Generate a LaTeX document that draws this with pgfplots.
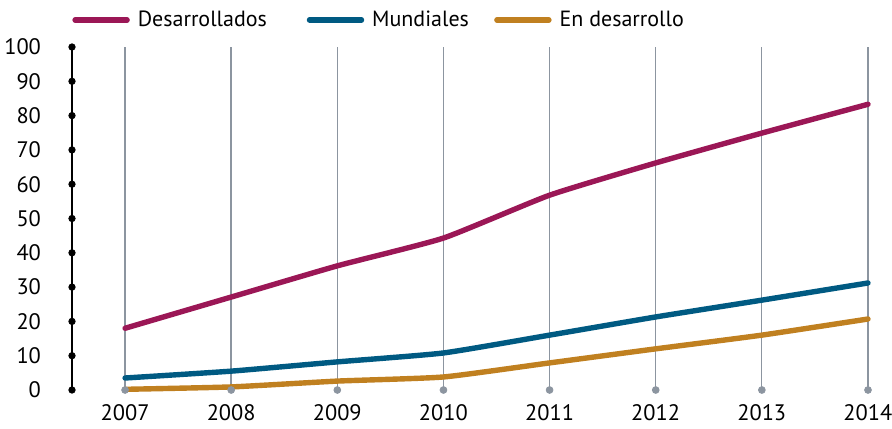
\documentclass[border=0pt]{standalone}
\usepackage{pgfplots}
\pgfplotsset{compat=1.18}
\usepackage{fontspec}
\setmainfont{PT Sans}
\definecolor{cDes}{HTML}{9B1756}
\definecolor{cMun}{HTML}{005A82}
\definecolor{cEnd}{HTML}{C08020}
\definecolor{cGrid}{HTML}{8C95A0}
\begin{document}
\begin{tikzpicture}
\path[use as bounding box] (-36pt,-19pt) rectangle (410pt,195pt);
\begin{axis}[
  at={(0,0)}, anchor=south west,
  scale only axis, width=398pt, height=171.5pt,
  xmin=2006.5, xmax=2014, ymin=0, ymax=100,
  clip=false,
  axis lines=left, axis line style={-},
  x axis line style={draw=none},
  y axis line style={black, line width=0.8pt},
  xtick={2007,...,2014}, ytick={0,10,...,100},
  xticklabel style={/pgf/number format/1000 sep={}, yshift=-3.5pt},
  yticklabel style={xshift=-12pt},
  /pgf/number format/assume math mode=true,
  major tick length=0pt,
  xmajorgrids, grid style={cGrid, line width=0.7pt},
  tick label style={font=\fontsize{11.2}{13}\selectfont},
  legend columns=3,
  legend style={at={(rel axis cs:0,1)}, anchor=west, xshift=0pt, yshift=13.5pt,
    draw=none, fill=none, inner sep=0pt,
    font=\fontsize{11}{13}\selectfont,
    nodes={inner sep=0pt, anchor=west},
    /tikz/every odd column/.append style={column sep=4pt}},
  legend image code/.code={\draw[#1, line cap=round] (0pt,0pt) -- (26pt,0pt);},
]
% grid end dots
\addplot[only marks, mark=*, mark size=1.7pt, color=cGrid, forget plot] coordinates {
(2007,0) (2008,0) (2009,0) (2010,0) (2011,0) (2012,0) (2013,0) (2014,0)};
% y axis dots
\addplot[only marks, mark=*, mark size=1.6pt, color=black, forget plot] coordinates {
(2006.5,0) (2006.5,10) (2006.5,20) (2006.5,30) (2006.5,40) (2006.5,50) (2006.5,60) (2006.5,70) (2006.5,80) (2006.5,90) (2006.5,100)};
\addplot[cDes, line width=2.7pt, line cap=round, smooth, tension=0.3] coordinates {
(2007,18.0) (2008,27.1) (2009,36.2) (2010,44.3) (2011,56.8) (2012,66.2) (2013,74.9) (2014,83.3)};
\addlegendentry{\makebox[84.5pt][l]{Desarrollados}}
\addplot[cMun, line width=2.7pt, line cap=round, smooth, tension=0.3] coordinates {
(2007,3.5) (2008,5.5) (2009,8.2) (2010,10.8) (2011,16.0) (2012,21.3) (2013,26.2) (2014,31.2)};
\addlegendentry{\makebox[61pt][l]{Mundiales}}
\addplot[cEnd, line width=2.7pt, line cap=round, smooth, tension=0.3] coordinates {
(2007,0.2) (2008,0.9) (2009,2.6) (2010,3.8) (2011,7.9) (2012,12.0) (2013,16.0) (2014,20.7)};
\addlegendentry{En desarrollo}
\end{axis}
\end{tikzpicture}
\end{document}
